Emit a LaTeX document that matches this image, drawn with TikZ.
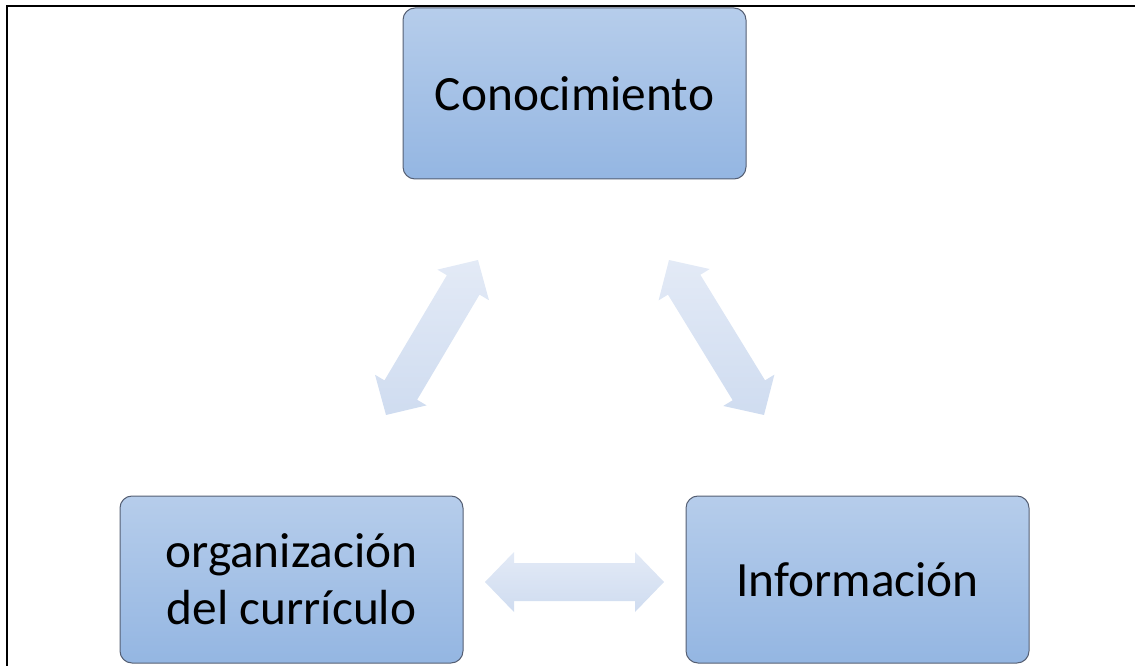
\documentclass[tikz,border=0pt]{standalone}
\usepackage{fontspec}
\setmainfont{Carlito}
\usetikzlibrary{calc}

\definecolor{boxtop}{RGB}{182,205,235}
\definecolor{boxbot}{RGB}{148,182,226}
\definecolor{boxline}{RGB}{85,95,115}
\definecolor{linktop}{RGB}{227,234,246}
\definecolor{linkbot}{RGB}{207,220,240}

\tikzset{every picture/.style={line width=0.75pt}}
\tikzset{
  ideabox/.style={draw=boxline, rounded corners=9pt, top color=boxtop, bottom color=boxbot,
    minimum width=257.25pt, inner sep=0pt, align=center, font=\fontsize{37}{43}\selectfont},
  linkfill/.style={draw=none, top color=linktop, bottom color=linkbot}
}

% double block arrow between two named tips
\newcommand{\dblarrow}[2]{%
  \coordinate (#1h) at ($(#1)!21.75pt!(#2)$);
  \coordinate (#2h) at ($(#2)!21.75pt!(#1)$);
  \path[linkfill] (#1) -- ($(#1h)!22.5pt!90:(#2)$) -- ($(#1h)!14.25pt!90:(#2)$)
    -- ($(#2h)!14.25pt!-90:(#1)$) -- ($(#2h)!22.5pt!-90:(#1)$) -- (#2)
    -- ($(#2h)!22.5pt!90:(#1)$) -- ($(#2h)!14.25pt!90:(#1)$)
    -- ($(#1h)!14.25pt!-90:(#2)$) -- ($(#1h)!22.5pt!-90:(#2)$) -- cycle;
}

\begin{document}
\begin{tikzpicture}[x=0.75pt,y=0.75pt,yscale=-1,xscale=1]
\useasboundingbox (0,0) rectangle (1135,666);

%Frame
\draw [line width=1.5pt] (7,666) -- (7,6) -- (1135,6) ;

%Boxes
\node [ideabox, minimum height=128.25pt] (con) at (574.5,93.5) {Conocimiento};
\node [ideabox, minimum height=125.25pt] (org) at (291.5,579.5) {organización\\del currículo};
\node [ideabox, minimum height=125.25pt] (inf) at (857.5,579.5) {Información};

%Arrow tips
\coordinate (co1) at (478,260);
\coordinate (co2) at (386,415);
\coordinate (ci1) at (669,260);
\coordinate (ci2) at (764,415);
\coordinate (oi1) at (485,582);
\coordinate (oi2) at (664,582);

%Arrows
\dblarrow{co1}{co2}
\dblarrow{ci1}{ci2}
\dblarrow{oi1}{oi2}

\end{tikzpicture}
\end{document}
